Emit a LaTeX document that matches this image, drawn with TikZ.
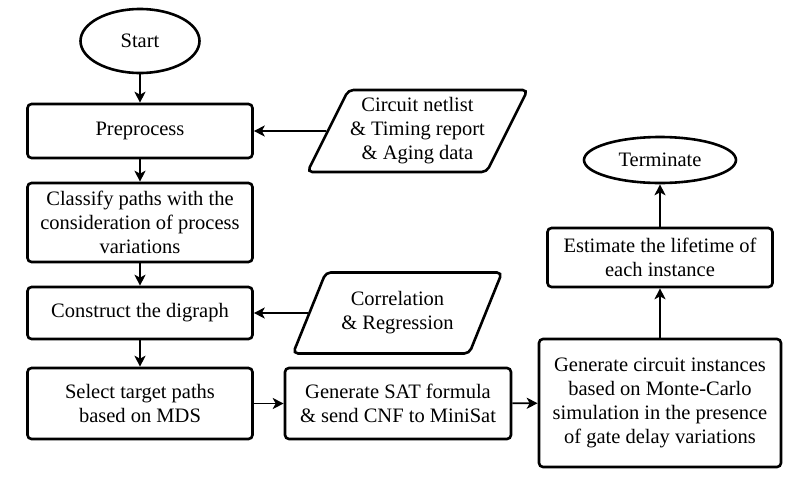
\documentclass[tikz,border=0pt]{standalone}
\usepackage{fontspec}
\setmainfont{Liberation Serif}
\usetikzlibrary{arrows.meta,shapes.geometric}
\begin{document}
\begin{tikzpicture}[x=1pt,y=-1pt,
  every node/.style={font=\fontsize{20.5}{24}\selectfont, align=center, inner sep=0pt},
  box/.style={draw, line width=2.6pt, rounded corners=4pt},
  term/.style={draw, ellipse, line width=2.6pt},
  para/.style={draw, trapezium, trapezium left angle=59, trapezium right angle=121,
     trapezium stretches=true, line width=2.6pt, rounded corners=5pt},
  arr/.style={line width=1.8pt, -{Stealth[length=11pt,width=11pt,inset=3pt]}}]
\useasboundingbox (0,0) rectangle (801,480);
\node[term, minimum width=119pt, minimum height=64pt] (start) at (140,41) {Start};
\node[box, minimum width=225pt, minimum height=54pt] (pre) at (140,131) {Preprocess};
\node[box, minimum width=225pt, minimum height=79pt] (cls) at (140,222.5) {Classify paths with the\\consideration of process\\variations};
\node[box, minimum width=225pt, minimum height=52pt] (con) at (140,313) {Construct the digraph};
\node[box, minimum width=225pt, minimum height=71pt] (sel) at (140,403.5) {Select target paths\\based on MDS};
\node[box, minimum width=226pt, minimum height=71pt] (sat) at (398,403.5) {Generate SAT formula\\\& send CNF to MiniSat};
\node[box, minimum width=242pt, minimum height=128pt] (gen) at (660,403) {Generate circuit instances\\based on Monte-Carlo\\simulation in the presence\\of gate delay variations};
\node[box, minimum width=225pt, minimum height=59pt] (est) at (660,257.5) {Estimate the lifetime of\\each instance};
\node[term, minimum width=152pt, minimum height=46pt] (ter) at (660,160) {Terminate};
\node[para, minimum width=221pt, minimum height=82pt] (net) at (417.5,131) {Circuit netlist\\\& Timing report\\\& Aging data};
\node[para, minimum width=209pt, minimum height=81pt] (cor) at (397.5,313) {Correlation\\\& Regression};
\draw[arr] (start) -- (pre);
\draw[arr] (pre) -- (cls);
\draw[arr] (cls) -- (con);
\draw[arr] (con) -- (sel);
\draw[arr] (net) -- (pre);
\draw[arr] (cor) -- (con);
\draw[arr] (sel) -- (sat);
\draw[arr] (sat) -- (gen);
\draw[arr] (gen) -- (est);
\draw[arr] (est) -- (ter);
\end{tikzpicture}
\end{document}
